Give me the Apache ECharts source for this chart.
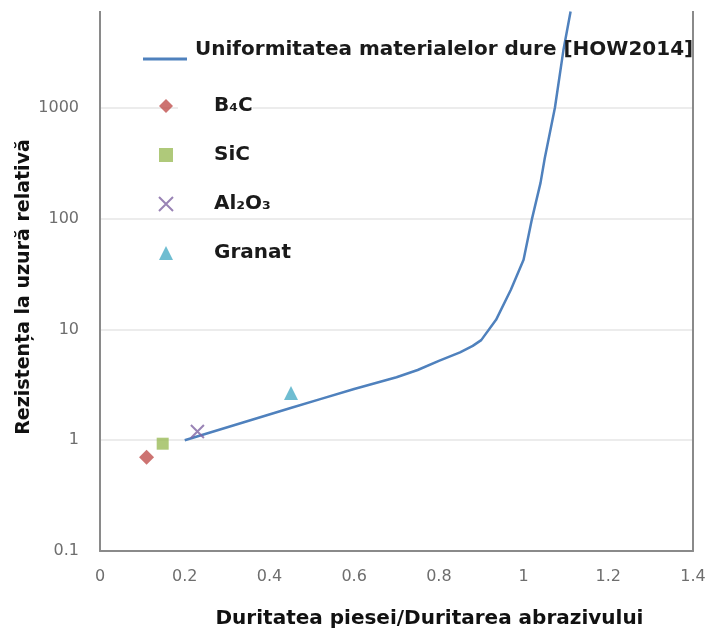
<!DOCTYPE html>
<html>
<head>
<meta charset="utf-8">
<script src="https://cdn.jsdelivr.net/npm/echarts@6/dist/echarts.min.js"></script>
<style>
  html, body { margin: 0; padding: 0; background: #ffffff; }
  #chart { width: 710px; height: 631px; }
</style>
</head>
<body>
<div id="chart"></div>
<script>
// Wear-resistance curve for hard materials [HOW2014]
const curveName = 'Uniformitatea materialelor dure [HOW2014]';
const curveX = [0.2, 0.45, 0.52, 0.6, 0.7, 0.75, 0.8, 0.85, 0.88, 0.9, 0.935, 0.97, 1.0, 1.02, 1.04, 1.05, 1.074, 1.094, 1.111];
const curveY = [1.0, 1.95, 2.35, 2.9, 3.7, 4.3, 5.2, 6.2, 7.1, 8.0, 12.2, 22.8, 42.6, 100, 210, 350, 1000, 3300, 7400];

// Measured abrasives
const materialNames = ['B₄C', 'SiC', 'Al₂O₃', 'Granat'];
const materialX = [0.11, 0.148, 0.23, 0.451];
const materialY = [0.70, 0.93, 1.20, 2.66];

// Axis ranges
const xMin = 0, xMax = 1.4, xStep = 0.2;
const yMin = 0.1, yMax = 10000;

const xName = 'Duritatea piesei/Duritarea abrazivului';
const yName = 'Rezistența la uzură relativă';

const TEXT_FONT = 'DejaVu Sans';
const TICK_FONT = 'DejaVu Sans';
const crossPath = 'path://M0,0L10,10M10,0L0,10';
const symbols = ['diamond', 'rect', crossPath, 'triangle'];
const symbolSizes = [15, 12, 13, 14];
const colors = ['#c0504d', '#9bbb59', '#8064a2', '#4bacc6'];
const lineColor = '#4f81bd';

const chart = echarts.init(document.getElementById('chart'), null, { renderer: 'canvas' });

const scatterSeries = materialNames.map((name, i) => ({
  name: name,
  type: 'scatter',
  symbol: symbols[i],
  symbolSize: symbolSizes[i],
  itemStyle: i === 2
    ? { color: 'rgba(0,0,0,0)', borderColor: colors[i], borderWidth: 2 }
    : { color: colors[i] },
  z: 5,
  data: [[materialX[i], materialY[i]]]
}));

const plainNumber = v => String(Number(v.toPrecision(6)));

const option = {
  animation: false,
  backgroundColor: '#ffffff',
  grid: { left: 100, right: 17, top: -3, bottom: 80, containLabel: false, outerBoundsMode: 'none' },
  xAxis: {
    type: 'value',
    min: xMin, max: xMax, interval: xStep,
    name: xName,
    nameLocation: 'middle',
    nameGap: 58,
    nameMoveOverlap: false,
    nameTextStyle: { fontFamily: TEXT_FONT, fontSize: 20, fontWeight: 'bold', color: '#111', padding: [0, 0, 0, 66] },
    axisLine: { show: true, lineStyle: { color: '#8a8a8a', width: 2 } },
    axisTick: { show: false },
    axisLabel: { fontFamily: TICK_FONT, fontSize: 16, color: '#6e6e6e', margin: 18, formatter: plainNumber },
    splitLine: { show: false }
  },
  yAxis: [{
    type: 'log',
    logBase: 10,
    min: yMin, max: yMax,
    name: yName,
    nameLocation: 'middle',
    nameGap: 66,
    nameMoveOverlap: false,
    nameTextStyle: { fontFamily: TEXT_FONT, fontSize: 19, fontWeight: 'bold', color: '#111', padding: [0, 26, 0, 0] },
    axisLine: { show: true, lineStyle: { color: '#8a8a8a', width: 2 } },
    axisTick: { show: false },
    axisLabel: { fontFamily: TICK_FONT, fontSize: 16, color: '#6e6e6e', margin: 21, showMaxLabel: false, formatter: plainNumber },
    splitLine: { show: true, lineStyle: { color: '#e6e6e6', width: 1.5 } }
  }, {
    type: 'log',
    logBase: 10,
    min: yMin, max: yMax,
    position: 'right',
    axisLine: { show: true, lineStyle: { color: '#8a8a8a', width: 2 } },
    axisTick: { show: false },
    axisLabel: { show: false },
    splitLine: { show: false }
  }],
  legend: [{
    data: [{ name: curveName, icon: 'rect' }],
    orient: 'vertical',
    left: 143,
    top: 40,
    padding: 0,
    itemWidth: 44,
    itemHeight: 3,
    formatter: name => '{t|' + name + '}\n{s| }',
    textStyle: {
      rich: {
        t: { fontFamily: TEXT_FONT, fontSize: 20, fontWeight: 'bold', color: '#1a1a1a', lineHeight: 26, padding: [0, 0, 0, 3] },
        s: { fontSize: 10, lineHeight: 18 }
      }
    }
  }, {
    data: materialNames.map((n, i) => ({ name: n, icon: symbols[i] })),
    orient: 'vertical',
    left: 158,
    top: 95,
    padding: 0,
    itemWidth: 14,
    itemHeight: 14,
    itemGap: 27,
    textStyle: { fontFamily: TEXT_FONT, fontSize: 20, fontWeight: 'bold', color: '#1a1a1a', padding: [0, 0, 0, 36], backgroundColor: '#ffffff', lineHeight: 22 }
  }],
  graphic: [{
    type: 'rect',
    left: 0, top: 0,
    shape: { width: 710, height: 11 },
    style: { fill: '#ffffff' },
    z: 100
  }],
  series: [{
    name: curveName,
    type: 'line',
    symbol: 'none',
    smooth: false,
    lineStyle: { color: lineColor, width: 2.5 },
    itemStyle: { color: lineColor },
    z: 3,
    data: curveX.map((x, i) => [x, curveY[i]])
  }].concat(scatterSeries)
};

chart.setOption(option);
</script>
</body>
</html>
